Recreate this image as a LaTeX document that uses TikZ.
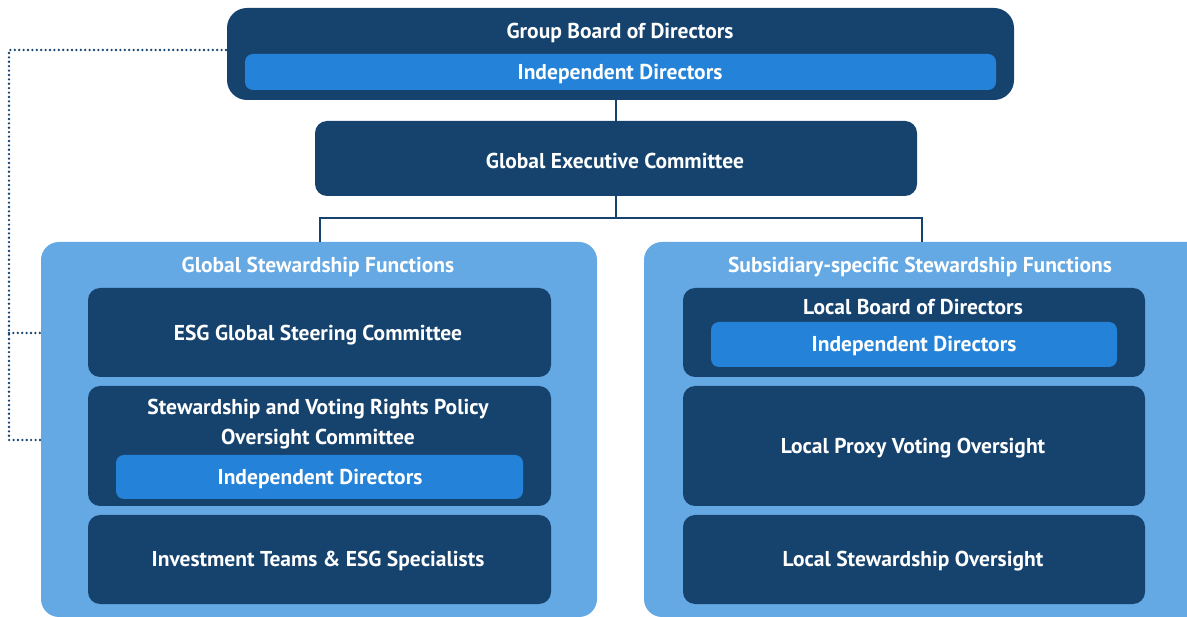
\documentclass[tikz,border=0pt]{standalone}
\usepackage{fontspec}
\setmainfont{PT Sans}
\usetikzlibrary{positioning}
\definecolor{navy}{RGB}{22,67,110}
\definecolor{brightblue}{RGB}{36,131,217}
\definecolor{lightblue}{RGB}{100,168,228}
\tikzset{
  darkbox/.style={fill=navy, draw=none, rounded corners=12pt, inner sep=0pt},
  idbox/.style={fill=brightblue, draw=none, rounded corners=8pt, inner sep=0pt},
  outerbox/.style={fill=lightblue, draw=none, rounded corners=18pt, inner sep=0pt},
  lbl/.style={text=white, font=\bfseries\fontsize{21.5}{24}\selectfont, inner sep=0pt},
  conn/.style={draw=navy, line width=2pt},
  dots/.style={draw=navy, line width=2.6pt, line cap=round, dash pattern=on 0pt off 4.4pt}
}
\begin{document}
\begin{tikzpicture}[x=1pt,y=-1pt]
\useasboundingbox (0,0) rectangle (1187,617);
% outer stewardship boxes
\path[outerbox] (41,242) rectangle (597,617);
\path[outerbox] (644,242) rectangle (1205,617);
\node[lbl] (gsf) at (318,267) {Global Stewardship Functions};
\node[lbl] (ssf) at (920,267) {Subsidiary-specific Stewardship Functions};
% top board
\path[darkbox, rounded corners=20pt] (227,8) rectangle (1014,100);
\node (gbd) at (620,54) [minimum width=787pt, minimum height=92pt] {};
\node[lbl] at (620,33) {Group Board of Directors};
\path[idbox] (245,54) rectangle (996,90);
\node[lbl] at (620,74) {Independent Directors};
% executive
\path[darkbox] (315,121) rectangle (917,196);
\node (gec) at (616,158.5) [minimum width=602pt, minimum height=75pt] {};
\node[lbl] at (615,161) {Global Executive Committee};
% left inner boxes
\path[darkbox] (88,288) rectangle (551,377);
\node[lbl] (esg) at (318,335) {ESG Global Steering Committee};
\path[darkbox] (88,386) rectangle (551,506);
\node[lbl] (svr1) at (318,409) {Stewardship and Voting Rights Policy};
\node[lbl] (svr2) at (318,439) {Oversight Committee};
\path[idbox] (116,455) rectangle (523,499);
\node[lbl] (lid) at (320,479) {Independent Directors};
\path[darkbox] (88,515) rectangle (551,604);
\node[lbl] (inv) at (318,561) {Investment Teams \& ESG Specialists};
% right inner boxes
\path[darkbox] (683,288) rectangle (1145,377);
\node[lbl] (lbd) at (913,307) {Local Board of Directors};
\path[idbox] (711,322) rectangle (1117,367);
\node[lbl] (rid) at (914,346) {Independent Directors};
\path[darkbox] (683,386) rectangle (1145,506);
\node[lbl] (lpv) at (913,448) {Local Proxy Voting Oversight};
\path[darkbox] (683,515) rectangle (1145,604);
\node[lbl] (lso) at (913,561) {Local Stewardship Oversight};
% connectors
\coordinate (b1) at (616,100);
\coordinate (e1) at (616,121);
\coordinate (e2) at (616,196);
\coordinate (j) at (616,218);
\coordinate (lt) at (320,242);
\coordinate (rt) at (922,242);
\draw[conn] (b1) -- (e1);
\draw[conn] (e2) -- (j);
\draw[conn] (lt) -- (320,218) -- (922,218) -- (rt);
% dotted link
\coordinate (d0) at (226,50);
\coordinate (d1) at (9,50);
\coordinate (d2) at (9,440);
\coordinate (d3) at (41,440);
\coordinate (d4) at (9,333);
\coordinate (d5) at (41,333);
\draw[dots] (d0) -- (d1) -- (d2) -- (d3);
\draw[dots] (d4) -- (d5);
\end{tikzpicture}
\end{document}
